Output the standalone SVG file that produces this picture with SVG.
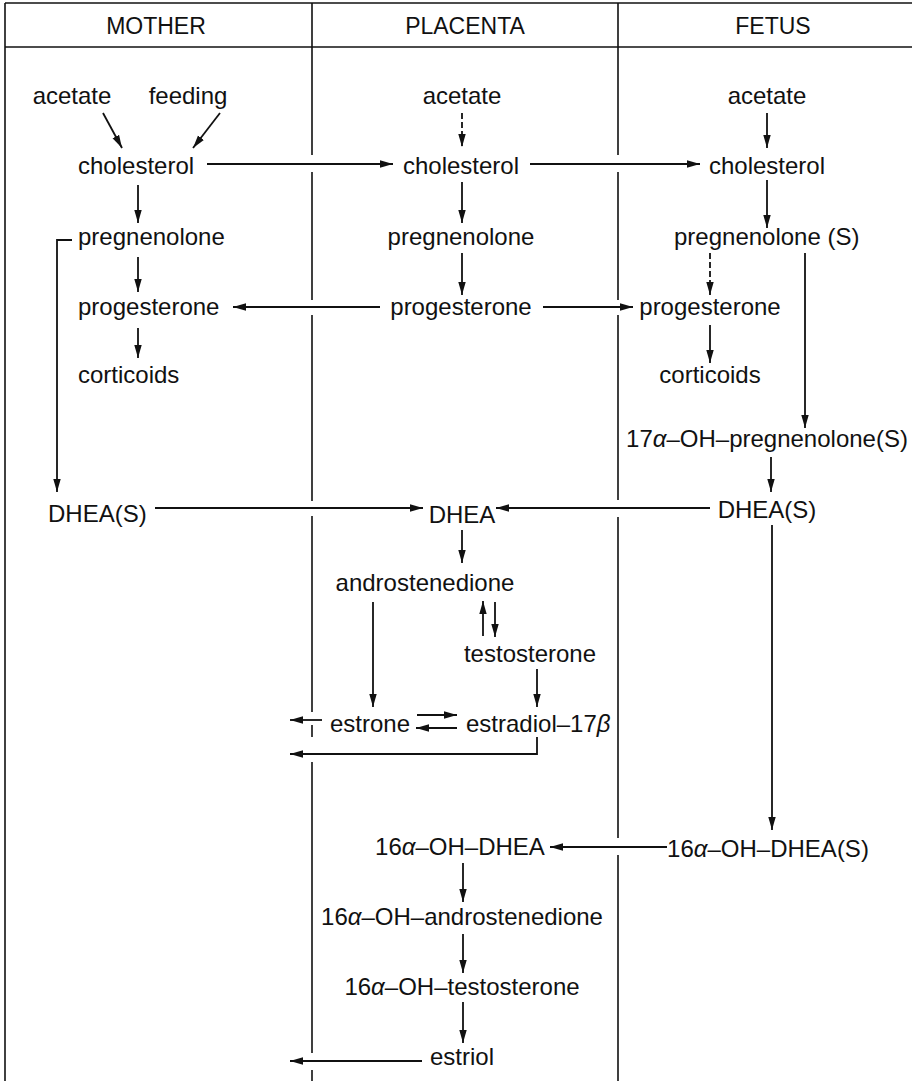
<svg xmlns="http://www.w3.org/2000/svg" width="912" height="1081" viewBox="0 0 912 1081">
  <style>
    text { font-family: "Liberation Sans", Arial, sans-serif; font-size: 24px; fill: #111; }
    .hdr { font-size: 23px; text-anchor: middle; }
    .c { text-anchor: middle; }
    .frame { stroke: #111; stroke-width: 1.6; fill: none; }
    .ln { stroke: #111; stroke-width: 1.8; fill: none; }
    .arr { stroke: #111; stroke-width: 1.8; fill: none; marker-end: url(#head); }
    .dash { stroke-dasharray: 6 3; }
    .gr { font-style: italic; }
  </style>
  <defs>
    <marker id="head" markerUnits="userSpaceOnUse" markerWidth="14" markerHeight="9" refX="13" refY="4.5" orient="auto">
      <path d="M0,0.8 L13,4.5 L0,8.2 z" fill="#111"/>
    </marker>
  </defs>

  <!-- table frame: top rule, header rule, left edge, column dividers (broken where arrows cross) -->
  <g id="frame" class="frame">
    <line x1="5" y1="3" x2="912" y2="3"/>
    <line x1="5" y1="47" x2="912" y2="47"/>
    <line x1="5" y1="3" x2="5" y2="1081"/>
    <path d="M312,3 V155 M312,172 V300 M312,315 V501 M312,516 V712 M312,725 V737 M312,762 V1053 M312,1070 V1081"/>
    <path d="M618,3 V155 M618,172 V300 M618,315 V500 M618,517 V838 M618,855 V1081"/>
  </g>

  <g id="headers">
    <text class="hdr" x="156" y="34">MOTHER</text>
    <text class="hdr" x="465" y="34">PLACENTA</text>
    <text class="hdr" x="773" y="34">FETUS</text>
  </g>

  <!-- mother column -->
  <g id="m-acetate"><text class="c" x="72" y="104">acetate</text></g>
  <g id="m-feeding"><text class="c" x="188" y="104">feeding</text></g>
  <g id="m-cholesterol"><text x="78" y="174">cholesterol</text></g>
  <g id="m-pregnenolone"><text x="78" y="245">pregnenolone</text></g>
  <g id="m-progesterone"><text x="78" y="315">progesterone</text></g>
  <g id="m-corticoids"><text x="78" y="383">corticoids</text></g>
  <g id="m-dheas"><text x="48" y="522">DHEA(S)</text></g>

  <!-- placenta column -->
  <g id="p-acetate"><text class="c" x="462" y="104">acetate</text></g>
  <g id="p-cholesterol"><text class="c" x="461" y="174">cholesterol</text></g>
  <g id="p-pregnenolone"><text class="c" x="461" y="245">pregnenolone</text></g>
  <g id="p-progesterone"><text class="c" x="461" y="315">progesterone</text></g>
  <g id="p-dhea"><text class="c" x="462" y="523">DHEA</text></g>
  <g id="p-androstenedione"><text class="c" x="425" y="591">androstenedione</text></g>
  <g id="p-testosterone"><text class="c" x="530" y="662">testosterone</text></g>
  <g id="p-estrone"><text class="c" x="370" y="732">estrone</text></g>
  <g id="p-estradiol"><text x="466" y="732">estradiol–17<tspan class="gr">β</tspan></text></g>
  <g id="p-16oh-dhea"><text class="c" x="460" y="855">16<tspan class="gr">α</tspan>–OH–DHEA</text></g>
  <g id="p-16oh-androstenedione"><text class="c" x="462" y="925">16<tspan class="gr">α</tspan>–OH–androstenedione</text></g>
  <g id="p-16oh-testosterone"><text class="c" x="462" y="995">16<tspan class="gr">α</tspan>–OH–testosterone</text></g>
  <g id="p-estriol"><text class="c" x="462" y="1065">estriol</text></g>

  <!-- fetus column -->
  <g id="f-acetate"><text class="c" x="767" y="104">acetate</text></g>
  <g id="f-cholesterol"><text class="c" x="767" y="174">cholesterol</text></g>
  <g id="f-pregnenolone"><text x="674" y="245">pregnenolone (S)</text></g>
  <g id="f-progesterone"><text class="c" x="710" y="315">progesterone</text></g>
  <g id="f-corticoids"><text class="c" x="710" y="383">corticoids</text></g>
  <g id="f-17oh-pregnenolone"><text class="c" x="767" y="447">17<tspan class="gr">α</tspan>–OH–pregnenolone(S)</text></g>
  <g id="f-dheas"><text class="c" x="767" y="518">DHEA(S)</text></g>
  <g id="f-16oh-dheas"><text class="c" x="768" y="857">16<tspan class="gr">α</tspan>–OH–DHEA(S)</text></g>

  <g id="connectors">
    <!-- mother -->
    <line class="arr" x1="103" y1="113" x2="122" y2="148"/>
    <line class="arr" x1="220" y1="113" x2="193" y2="148"/>
    <line class="arr" x1="138" y1="185" x2="138" y2="223"/>
    <line class="arr" x1="138" y1="257" x2="138" y2="292"/>
    <line class="arr" x1="138" y1="328" x2="138" y2="358"/>
    <path class="arr" d="M72,240 H57 V492"/>

    <!-- cross-column transfers -->
    <line class="arr" x1="207" y1="164" x2="393" y2="164"/>
    <line class="arr" x1="530" y1="164" x2="700" y2="164"/>
    <line class="arr" x1="380" y1="307" x2="233" y2="307"/>
    <line class="arr" x1="543" y1="307" x2="633" y2="307"/>
    <line class="arr" x1="155" y1="508" x2="423" y2="508"/>
    <line class="arr" x1="710" y1="508" x2="496" y2="508"/>
    <line class="arr" x1="322" y1="720" x2="290" y2="720"/>
    <path class="arr" d="M537,737 V754 H290"/>
    <line class="arr" x1="667" y1="847" x2="550" y2="847"/>
    <line class="arr" x1="422" y1="1061" x2="290" y2="1061"/>

    <!-- placenta -->
    <line class="arr dash" x1="462" y1="113" x2="462" y2="147"/>
    <line class="arr" x1="462" y1="182" x2="462" y2="223"/>
    <line class="arr" x1="462" y1="253" x2="462" y2="295"/>
    <line class="arr" x1="462" y1="530" x2="462" y2="563"/>
    <line class="arr" x1="373" y1="602" x2="373" y2="707"/>
    <line class="arr" x1="483" y1="636" x2="483" y2="601"/>
    <line class="arr" x1="495" y1="602" x2="495" y2="637"/>
    <line class="arr" x1="537" y1="669" x2="537" y2="707"/>
    <line class="arr" x1="417" y1="715" x2="457" y2="715"/>
    <line class="arr" x1="457" y1="728" x2="416" y2="728"/>
    <line class="arr" x1="463" y1="863" x2="463" y2="902"/>
    <line class="arr" x1="463" y1="934" x2="463" y2="973"/>
    <line class="arr" x1="463" y1="1002" x2="463" y2="1043"/>

    <!-- fetus -->
    <line class="arr" x1="767" y1="113" x2="767" y2="148"/>
    <line class="arr" x1="767" y1="180" x2="767" y2="228"/>
    <line class="arr dash" x1="710" y1="253" x2="710" y2="295"/>
    <line class="arr" x1="710" y1="325" x2="710" y2="363"/>
    <line class="arr" x1="805" y1="253" x2="805" y2="428"/>
    <line class="arr" x1="771" y1="457" x2="771" y2="492"/>
    <line class="arr" x1="772" y1="525" x2="772" y2="830"/>
  </g>
</svg>
